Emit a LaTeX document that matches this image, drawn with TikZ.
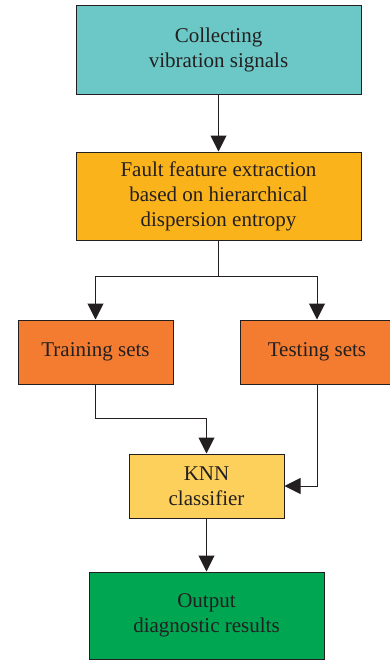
\documentclass[tikz,border=0pt]{standalone}
\usepackage{fontspec}
\setmainfont{Liberation Serif}
\usetikzlibrary{arrows.meta}
\definecolor{cteal}{HTML}{6BC8C6}
\definecolor{cgold}{HTML}{FBB31C}
\definecolor{corange}{HTML}{F47C30}
\definecolor{cyellow}{HTML}{FDD05C}
\definecolor{cgreen}{HTML}{00A651}
\definecolor{cline}{HTML}{231F20}
\begin{document}
\begin{tikzpicture}[x=1pt,y=-1pt,
  box/.style={draw=cline,line width=1pt,inner sep=0pt,align=center,
    font=\fontsize{21}{25}\selectfont,text=cline},
  conn/.style={draw=cline,line width=1pt,-{Triangle[width=16pt,length=16pt]}}]
\useasboundingbox (0,0) rectangle (390,661);
\begin{scope}
\clip (0,0) rectangle (390,661);
\node[box,fill=cteal,minimum width=285pt,minimum height=88pt] (collect) at (218.5,50) {Collecting\\vibration signals};
\node[box,fill=cgold,minimum width=285pt,minimum height=88pt] (feature) at (218.5,196) {Fault feature extraction\\based on hierarchical\\dispersion entropy};
\node[box,fill=corange,minimum width=155pt,minimum height=64pt] (train) at (95.5,352) {Training sets};
\node[box,fill=corange,minimum width=154pt,minimum height=64pt] (test) at (317,352) {Testing sets};
\node[box,fill=cyellow,minimum width=155pt,minimum height=64pt] (knn) at (206.5,486) {KNN\\classifier};
\node[box,fill=cgreen,minimum width=235pt,minimum height=87pt] (out) at (206.5,615.5) {Output\\diagnostic results};
\end{scope}
\coordinate (split) at (218.5,276);
\draw[conn] (collect.south) -- (feature.north);
\draw[line width=1pt,draw=cline] (feature.south) -- (split);
\draw[conn] (split) -| (train.north);
\draw[conn] (split) -| (test.north);
\draw[conn] (train.south) |- (206.5,418) -- (knn.north);
\draw[conn] (test.south) |- (knn.east);
\draw[conn] (knn.south) -- (out.north);
\end{tikzpicture}
\end{document}
